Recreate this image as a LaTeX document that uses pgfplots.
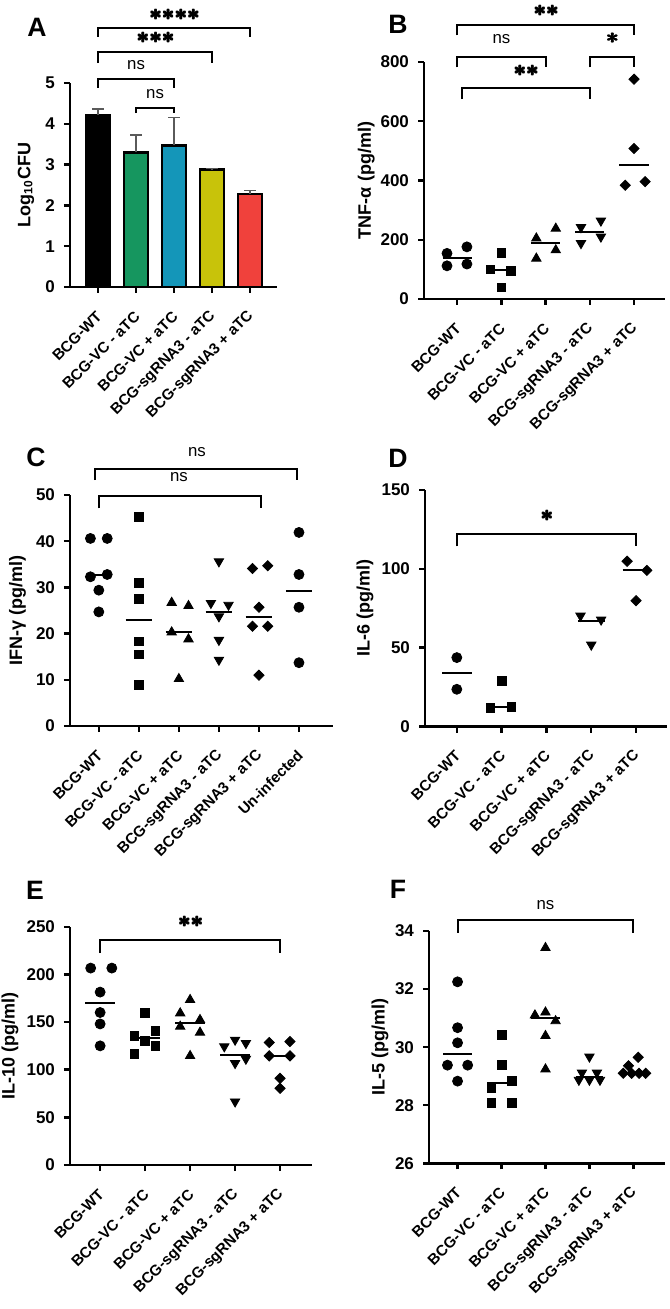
\documentclass[border=0pt]{standalone}
\usepackage{fontspec}
\setmainfont{Liberation Sans}
\usepackage{pgfplots}
\pgfplotsset{compat=1.18}
\definecolor{cgreen}{RGB}{22,150,95}
\definecolor{cblue}{RGB}{20,150,185}
\definecolor{cyellow}{RGB}{200,195,10}
\definecolor{cred}{RGB}{240,65,60}
\definecolor{cerr}{RGB}{90,90,90}
\newcommand\tickfont{\fontsize{8.5}{10}\selectfont\bfseries}
\newcommand\catfont{\fontsize{7.6}{9}\selectfont\bfseries}
\newcommand\labfont{\fontsize{9}{11}\selectfont\bfseries}
\newcommand\panfont{\fontsize{13.3}{15}\selectfont\bfseries}
\newcommand\nsfont{\fontsize{8.4}{10}\selectfont}
\newcommand\fb[1]{\rlap{#1}\rlap{\kern0.5pt#1}\rlap{\raisebox{0.45pt}{#1}}\rlap{\kern0.5pt\raisebox{0.45pt}{#1}}\hphantom{#1}}
\newcommand\stars[1]{{\fontsize{11}{12}\selectfont\boldmath\fb{$#1$}}}
\def\pp{0.5pt}
\newcommand\brk[4]{\draw[line width=1pt] (axis cs:#1,#4) -- (axis cs:#1,#3) -- (axis cs:#2,#3) -- (axis cs:#2,#4);}
\tikzset{st/.style={inner sep=0pt}}
\pgfplotsset{
  panel/.style={
    scale only axis, anchor=south west, clip=false,
    axis lines=left, axis line style={-, line width=1.2pt},
    every tick/.style={black, line width=1.2pt},
    tick align=outside, major tick length=3pt,
    xtick={0,...,4},
    xticklabels={BCG-WT, BCG-VC - aTC, BCG-VC + aTC, BCG-sgRNA3 - aTC, BCG-sgRNA3 + aTC},
    xticklabel style={xshift=3pt, yshift=-8pt, rotate=45, anchor=east, font=\catfont},
    yticklabel style={font=\tickfont, xshift=-1pt},
    /pgf/number format/assume math mode=true,
    ylabel style={font=\labfont, anchor=center},
  },
  ebar/.style={draw=black, line width=1.2pt,
    error bars/y dir=plus, error bars/y explicit,
    error bars/error bar style={line width=0.8pt, cerr},
    error bars/error mark options={rotate=90, mark size=3pt, line width=0.8pt, cerr}},
  circ/.style={only marks, mark=*, mark size=2.5pt, black},
  sq/.style={only marks, mark=square*, mark size=2.2pt, black},
  tup/.style={only marks, mark=triangle*, mark size=2.7pt, black},
  tdn/.style={only marks, mark=triangle*, mark size=2.7pt, black, mark options={rotate=180}},
  dia/.style={only marks, mark=square*, mark size=1.8pt, black, mark options={rotate=45}},
  med/.style={no marks, black, line width=1pt},
}
\begin{document}
\begin{tikzpicture}
\useasboundingbox (0,0) rectangle (334.5pt,-654.5pt);
% panel letters
\node[font=\panfont] at (37*\pp,-27*\pp) {A};
\node[font=\panfont] at (398*\pp,-24*\pp) {B};
\node[font=\panfont] at (36*\pp,-457*\pp) {C};
\node[font=\panfont] at (398*\pp,-458*\pp) {D};
\node[font=\panfont] at (35*\pp,-890*\pp) {E};
\node[font=\panfont] at (398*\pp,-889*\pp) {F};

% ---------------- A ----------------
\begin{axis}[panel, at={(70*\pp,-287*\pp)}, width=103.5pt, height=102pt,
  xmin=-0.74, xmax=4.71, ymin=0, ymax=5, ytick={0,1,2,3,4,5},
  ylabel={Log\textsubscript{10}CFU}, ylabel style={at={(axis description cs:-0.213,0.5)}},
  ybar, bar width=12pt, bar shift=0pt]
\addplot[ebar, fill=black] coordinates {(0,4.22) +- (0,0.15)};
\addplot[ebar, fill=cgreen] coordinates {(1,3.30) +- (0,0.43)};
\addplot[ebar, fill=cblue] coordinates {(2,3.47) +- (0,0.68)};
\addplot[ebar, fill=cyellow] coordinates {(3,2.88) +- (0,0.02)};
\addplot[ebar, fill=cred] coordinates {(4,2.28) +- (0,0.09)};
\brk{1}{2}{4.39}{4.26}
\node[font=\nsfont] at (axis cs:1.5,4.73) {ns};
\brk{0}{2}{5.10}{4.88}
\node[font=\nsfont] at (axis cs:1,5.45) {ns};
\brk{0}{3}{5.76}{5.49}
\node[st] at (axis cs:1.5,6.11) {\stars{{\ast}{\ast}{\ast}}};
\brk{0}{4}{6.35}{6.13}
\node[st] at (axis cs:2,6.68) {\stars{{\ast}{\ast}{\ast}{\ast}}};
\end{axis}

% ---------------- B ----------------
\begin{axis}[panel, at={(424*\pp,-299*\pp)}, width=120.5pt, height=118.5pt,
  xmin=-0.75, xmax=4.70, ymin=0, ymax=800, ytick={0,200,400,600,800},
  ylabel={TNF-α (pg/ml)}, ylabel style={at={(axis description cs:-0.24,0.5)}}]
\addplot[circ] coordinates {(-0.23,154) (0.22,176) (-0.23,112) (0.22,118)};
\addplot[sq] coordinates {(1,156) (0.75,100) (1.22,94) (1,39)};
\addplot[tup] coordinates {(1.79,205) (2.23,238) (1.79,137) (2.23,165)};
\addplot[tdn] coordinates {(2.8,242) (3.25,264) (2.8,188) (3.25,210)};
\addplot[dia] coordinates {(4,742) (4,508) (3.8,384) (4.25,396)};
\addplot[med] coordinates {(-0.33,137) (0.33,137)};
\addplot[med] coordinates {(0.67,97) (1.33,97)};
\addplot[med] coordinates {(1.67,190) (2.33,190)};
\addplot[med] coordinates {(2.67,225) (3.33,225)};
\addplot[med] coordinates {(3.67,452) (4.33,452)};
\brk{0}{4}{924}{890}
\node[st] at (axis cs:2,972) {\stars{{\ast}{\ast}}};
\brk{0}{2}{816}{782}
\node[font=\nsfont] at (axis cs:1,877) {ns};
\brk{3}{4}{816}{782}
\node[st] at (axis cs:3.5,880) {\stars{\ast}};
\brk{0.1}{3}{712}{675}
\node[st] at (axis cs:1.55,769) {\stars{{\ast}{\ast}}};
\end{axis}

% ---------------- C ----------------
\begin{axis}[panel, at={(70*\pp,-726*\pp)}, width=131.5pt, height=115.5pt,
  xmin=-0.72, xmax=5.85, ymin=0, ymax=50, ytick={0,10,20,30,40,50},
  xtick={0,...,5},
  xticklabels={BCG-WT, BCG-VC - aTC, BCG-VC + aTC, BCG-sgRNA3 - aTC, BCG-sgRNA3 + aTC, Un-infected},
  ylabel={IFN-γ (pg/ml)}, ylabel style={at={(axis description cs:-0.20,0.5)}}]
\addplot[circ] coordinates {(-0.21,40.6) (0.21,40.6) (-0.21,32.3) (0.21,32.8) (0,29.4) (0,24.7)};
\addplot[sq] coordinates {(1,45.3) (1,30.9) (1,27.5) (1,18.3) (1,15.5) (1,8.9)};
\addplot[tup] coordinates {(1.82,26.7) (2.24,26.0) (1.82,20.3) (2.24,18.8) (2,10.2)};
\addplot[tdn] coordinates {(3,35.6) (2.8,26.6) (3.24,26.2) (3,23.7) (3,18.6) (3,14.3)};
\addplot[dia] coordinates {(3.84,34.1) (4.22,34.7) (4,25.7) (3.84,21.6) (4.22,21.6) (4,11.0)};
\addplot[circ] coordinates {(5,41.9) (5,32.8) (5,25.7) (5,13.7)};
\addplot[med] coordinates {(-0.33,32.7) (0.33,32.7)};
\addplot[med] coordinates {(0.67,22.9) (1.33,22.9)};
\addplot[med] coordinates {(1.67,20.4) (2.33,20.4)};
\addplot[med] coordinates {(2.67,24.6) (3.33,24.6)};
\addplot[med] coordinates {(3.67,23.7) (4.33,23.7)};
\addplot[med] coordinates {(4.67,29.2) (5.33,29.2)};
\brk{-0.1}{4.95}{55.6}{53.2}
\node[font=\nsfont] at (axis cs:2.45,59.2) {ns};
\brk{0}{4.05}{49.8}{47.1}
\node[font=\nsfont] at (axis cs:2,53.8) {ns};
\end{axis}

% ---------------- D ----------------
\begin{axis}[panel, at={(425*\pp,-726.5*\pp)}, width=121pt, height=118.25pt,
  xmin=-0.71, xmax=4.69, ymin=0, ymax=150, ytick={0,50,100,150},
  ylabel={IL-6 (pg/ml)}, ylabel style={at={(axis description cs:-0.248,0.5)}}]
\addplot[circ] coordinates {(0,43.7) (0,23.6)};
\addplot[sq] coordinates {(1,28.9) (0.75,11.6) (1.22,12.6)};
\addplot[tdn] coordinates {(2.76,70.2) (3.22,67.7) (3,51.8)};
\addplot[dia] coordinates {(3.8,104.8) (4.24,99.0) (4,79.8)};
\addplot[med] coordinates {(-0.33,33.8) (0.33,33.8)};
\addplot[med] coordinates {(0.7,12.2) (1.3,12.2)};
\addplot[med] coordinates {(2.7,66.6) (3.3,66.6)};
\addplot[med] coordinates {(3.7,99) (4.3,99)};
\brk{0}{4}{122.2}{114.3}
\node[st] at (axis cs:2,133.4) {\stars{\ast}};
\end{axis}

% ---------------- E ----------------
\begin{axis}[panel, at={(70*\pp,-1165*\pp)}, width=121pt, height=119.15pt,
  xmin=-0.67, xmax=4.71, ymin=0, ymax=250, ytick={0,50,100,150,200,250},
  ylabel={IL-10 (pg/ml)}, ylabel style={at={(axis description cs:-0.248,0.5)}}]
\addplot[circ] coordinates {(-0.21,206.6) (0.26,206.6) (0,181.4) (0,160) (0,148) (0,125)};
\addplot[sq] coordinates {(1,159.3) (0.76,135.5) (1.23,140.8) (1,130.3) (1.23,125) (0.76,116.3)};
\addplot[tup] coordinates {(2,173.3) (1.78,159.3) (2.22,152.3) (1.78,145.3) (2.22,139) (2,114.5)};
\addplot[tdn] coordinates {(2.76,124.3) (3,131.3) (3.24,127.8) (3,106.8) (3.24,111.3) (3,66.5)};
\addplot[dia] coordinates {(3.76,128.5) (4.22,129.5) (3.76,114.5) (4.22,114.5) (4,91) (4,80.5)};
\addplot[med] coordinates {(-0.33,169.8) (0.33,169.8)};
\addplot[med] coordinates {(0.67,133) (1.33,133)};
\addplot[med] coordinates {(1.67,149.5) (2.33,149.5)};
\addplot[med] coordinates {(2.67,115.5) (3.33,115.5)};
\addplot[med] coordinates {(3.67,114.5) (4.33,114.5)};
\brk{0}{4}{236.3}{222.4}
\node[st] at (axis cs:2,255.3) {\stars{{\ast}{\ast}}};
\end{axis}

% ---------------- F ----------------
\begin{axis}[panel, at={(429*\pp,-1163.3*\pp)}, width=118pt, height=116.15pt,
  xmin=-0.65, xmax=4.72, ymin=26, ymax=34, ytick={26,28,30,32,34},
  ylabel={IL-5 (pg/ml)}, ylabel style={at={(axis description cs:-0.208,0.5)}}]
\addplot[circ] coordinates {(0,32.25) (0,30.67) (0,30.15) (-0.23,29.38) (0.23,29.38) (0,28.83)};
\addplot[sq] coordinates {(1,30.42) (1,29.38) (1.23,28.84) (0.77,28.6) (0.77,28.07) (1.23,28.07)};
\addplot[tup] coordinates {(2,33.42) (1.76,31.1) (2,31.2) (2.23,30.9) (2,30.39) (2,29.24)};
\addplot[tdn] coordinates {(3,29.67) (2.83,29.12) (3.17,29.12) (2.76,28.87) (3,28.87) (3.24,28.87)};
\addplot[dia] coordinates {(3.77,29.1) (3.96,29.1) (4.13,29.1) (4.28,29.1) (3.89,29.36) (4.11,29.65)};
\addplot[med] coordinates {(-0.33,29.76) (0.33,29.76)};
\addplot[med] coordinates {(0.67,28.75) (1.33,28.75)};
\addplot[med] coordinates {(1.67,30.99) (2.33,30.99)};
\addplot[med] coordinates {(2.7,28.98) (3.3,28.98)};
\addplot[med] coordinates {(3.7,29.1) (4.3,29.1)};
\brk{0}{4}{34.37}{33.94}
\node[font=\nsfont] at (axis cs:2,34.9) {ns};
\end{axis}
\end{tikzpicture}
\end{document}
